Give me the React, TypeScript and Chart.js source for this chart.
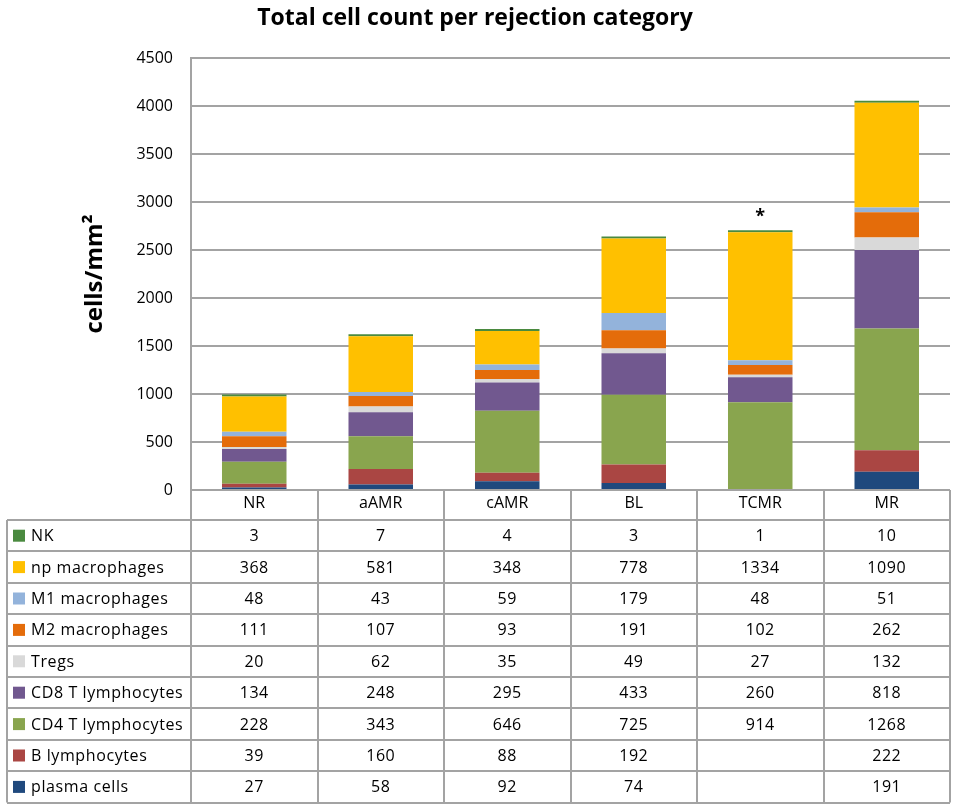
import React, { useEffect, useRef } from "react";
import { Chart, registerables } from "chart.js";

Chart.register(...registerables);

const TITLE = "Total cell count per rejection category";
const Y_TITLE = "cells/mm²";
const categories = ["NR", "aAMR", "cAMR", "BL", "TCMR", "MR"];

// stacking order: bottom to top
const seriesNames = [
  "plasma cells",
  "B lymphocytes",
  "CD4 T lymphocytes",
  "CD8 T lymphocytes",
  "Tregs",
  "M2 macrophages",
  "M1 macrophages",
  "np macrophages",
  "NK",
];
const plasmaCells = [27, 58, 92, 74, null, 191];
const bLymphocytes = [39, 160, 88, 192, null, 222];
const cd4T = [228, 343, 646, 725, 914, 1268];
const cd8T = [134, 248, 295, 433, 260, 818];
const tregs = [20, 62, 35, 49, 27, 132];
const m2Macro = [111, 107, 93, 191, 102, 262];
const m1Macro = [48, 43, 59, 179, 48, 51];
const npMacro = [368, 581, 348, 778, 1334, 1090];
const nk = [3, 7, 4, 3, 1, 10];
const seriesValues = [plasmaCells, bLymphocytes, cd4T, cd8T, tregs, m2Macro, m1Macro, npMacro, nk];
const seriesColors = [
  "#1F497D",
  "#AA4643",
  "#89A54E",
  "#71588F",
  "#D9D9D9",
  "#E46C0A",
  "#93B3DB",
  "#FFC000",
  "#4A8A3F",
];
const yTicks = { min: 0, max: 4500, step: 500 };
const significantCategory = "TCMR";
const significanceMark = "*";

const FONT = "'Open Sans', sans-serif";
const LINE = "#a3a3a3";

const tablePlugin = {
  id: "dataTable",
  afterDraw(chart: any) {
    const ctx = chart.ctx;
    const area = chart.chartArea;
    const xs = chart.scales.x;
    const n = categories.length;
    const colW = (area.right - area.left) / n;
    const headerTop = area.bottom;
    const headerBottom = xs.bottom;
    const rowH = 31.4;
    const tableLeft = 7;
    const rows = seriesNames.length;
    const tableBottom = headerBottom + rows * rowH;

    ctx.save();
    ctx.strokeStyle = LINE;
    ctx.lineWidth = 2;
    for (let i = 0; i <= n; i++) {
      const x = Math.round(area.left + i * colW);
      ctx.beginPath();
      ctx.moveTo(x, headerTop);
      ctx.lineTo(x, tableBottom);
      ctx.stroke();
    }
    ctx.beginPath();
    ctx.moveTo(tableLeft, headerBottom);
    ctx.lineTo(tableLeft, tableBottom);
    ctx.stroke();
    for (let r = 0; r <= rows; r++) {
      const y = Math.round(headerBottom + r * rowH);
      ctx.beginPath();
      ctx.moveTo(tableLeft, y);
      ctx.lineTo(area.right, y);
      ctx.stroke();
    }

    ctx.font = `16px ${FONT}`;
    (ctx as any).letterSpacing = "0.6px";
    ctx.textBaseline = "middle";
    for (let r = 0; r < rows; r++) {
      const si = rows - 1 - r;
      const yc = headerBottom + r * rowH + rowH / 2;
      ctx.fillStyle = seriesColors[si];
      ctx.fillRect(13, yc - 6, 12, 12);
      ctx.fillStyle = "#000";
      ctx.textAlign = "left";
      ctx.fillText(seriesNames[si], 31, yc + 1);
      ctx.textAlign = "center";
      for (let c = 0; c < n; c++) {
        const v = seriesValues[si][c];
        if (v === null || v === undefined) continue;
        ctx.fillText(String(v), xs.getPixelForValue(c), yc + 1);
      }
    }
    (ctx as any).letterSpacing = "0px";

    const ci = categories.indexOf(significantCategory);
    if (ci >= 0) {
      let total = 0;
      seriesValues.forEach((s) => (total += s[ci] || 0));
      const ys = chart.scales.y;
      ctx.font = `bold 18px ${FONT}`;
      ctx.textAlign = "center";
      ctx.fillStyle = "#000";
      ctx.fillText(significanceMark, xs.getPixelForValue(ci), ys.getPixelForValue(total) - 15);
    }
    ctx.restore();
  },
};

export default function App() {
  const ref = useRef<HTMLCanvasElement | null>(null);
  useEffect(() => {
    if (!ref.current) return;
    const chart = new Chart(ref.current, {
      type: "bar",
      data: {
        labels: categories,
        datasets: seriesNames.map((name, i) => ({
          label: name,
          data: seriesValues[i],
          backgroundColor: seriesColors[i],
          borderWidth: 0,
          barPercentage: 0.51,
          categoryPercentage: 1,
          minBarLength: name === "NK" ? 2 : 0,
        })),
      },
      options: {
        animation: false,
        responsive: false,
        maintainAspectRatio: false,
        layout: { padding: { left: 0, right: 7, top: 0, bottom: 289 } },
        plugins: {
          legend: { display: false },
          tooltip: { enabled: false },
          title: {
            display: true,
            text: TITLE,
            color: "#000",
            font: { family: FONT, size: 23, weight: "bold" },
            padding: { top: 5, bottom: 25.4 },
          },
        },
        scales: {
          x: {
            stacked: true,
            grid: { display: false, drawTicks: false },
            border: { display: false },
            ticks: { color: "#000", font: { family: FONT, size: 16 }, padding: 4 },
            afterFit: (s: any) => {
              s.height = 30;
            },
          },
          y: {
            stacked: true,
            min: yTicks.min,
            max: yTicks.max,
            grid: { color: LINE, lineWidth: 2, tickLength: 0 },
            border: { color: LINE, width: 2 },
            ticks: {
              stepSize: yTicks.step,
              color: "#000",
              font: { family: FONT, size: 16 },
              padding: 18,
              callback: (v: any) => String(v),
            },
            title: {
              display: true,
              text: Y_TITLE,
              color: "#000",
              font: { family: FONT, size: 24, weight: "bold" },
              padding: { top: 81, bottom: 0 },
            },
            afterFit: (s: any) => {
              s.width = 191;
            },
          },
        },
      },
      plugins: [tablePlugin],
    });
    return () => chart.destroy();
  }, []);
  return (
    <div style={{ position: "fixed", left: 0, top: 0, width: 957, height: 809, background: "#fff" }}>
      <canvas ref={ref} width={957} height={809} style={{ width: 957, height: 809 }} />
    </div>
  );
}
